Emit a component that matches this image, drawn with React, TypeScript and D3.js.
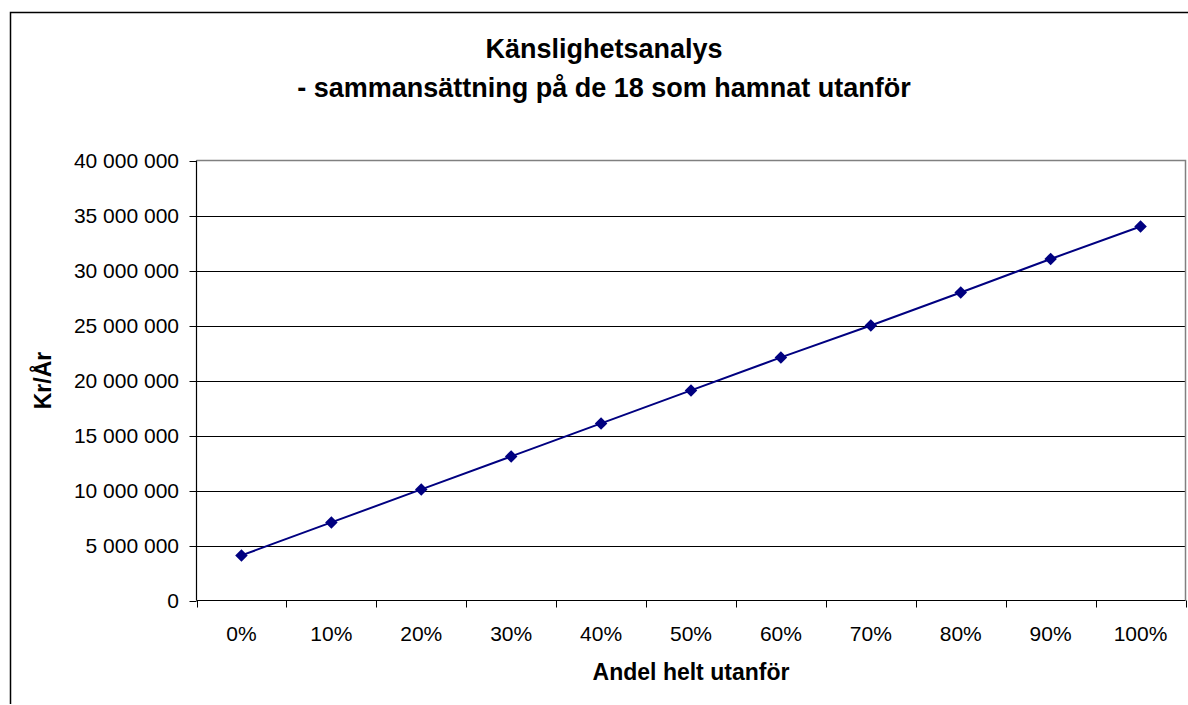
import React from "react";
import * as d3 from "d3";

const categories = ["0%", "10%", "20%", "30%", "40%", "50%", "60%", "70%", "80%", "90%", "100%"];
const values = [4.1e6, 7.1e6, 10.1e6, 13.1e6, 16.1e6, 19.1e6, 22.1e6, 25.0e6, 28.0e6, 31.05e6, 34.0e6];
const yTicks = [0, 5e6, 10e6, 15e6, 20e6, 25e6, 30e6, 35e6, 40e6];
const titleLines = ["Känslighetsanalys", "- sammansättning på de 18 som hamnat utanför"];
const xTitle = "Andel helt utanför";
const yTitle = "Kr/År";

const W = 1188;
const H = 705;
const FONT = "'Liberation Sans', Arial, Helvetica, sans-serif";

export default function App() {
  const left = 196.5, right = 1185.5, top = 160.5, bottom = 600.5;
  const x = d3.scaleBand<string>().domain(categories).range([left, right]).padding(0);
  const y = d3.scaleLinear().domain([0, 40e6]).range([bottom, top]);
  const loc = d3.formatLocale({ decimal: ",", thousands: " ", grouping: [3], currency: ["", " kr"] });
  const fmt = loc.format(",.0f");
  const cx = (c: string) => (x(c) as number) + x.bandwidth() / 2;
  const line = d3.line<number>().x((_, i) => cx(categories[i])).y((v) => y(v));
  const diamond = d3.symbol().type(d3.symbolDiamond2).size(100)() as string;
  const boundaries = [...categories.map((c) => x(c) as number), right];

  return (
    <svg width={W} height={H} style={{ position: "absolute", left: 0, top: 0, background: "#fff" }} fontFamily={FONT}>
      <rect x={0} y={0} width={W} height={H} fill="#fff" />
      {/* outer chart frame */}
      <path d={`M${W + 20},12.5 H10.5 V704`} fill="none" stroke="#000" strokeWidth={1.5} />
      {/* title */}
      <text x={604} y={57.5} textAnchor="middle" fontSize={27} fontWeight="bold">{titleLines[0]}</text>
      <text x={604} y={96.5} textAnchor="middle" fontSize={27} fontWeight="bold">{titleLines[1]}</text>
      {/* gridlines */}
      {yTicks.slice(1, -1).map((t) => (
        <line key={t} x1={left} x2={right} y1={Math.round(y(t)) + 0.5} y2={Math.round(y(t)) + 0.5} stroke="#000" strokeWidth={1} />
      ))}
      {/* plot border top/right */}
      <path d={`M${left},${top} H${right} V${bottom}`} fill="none" stroke="#808080" strokeWidth={1.5} />
      {/* axes */}
      <line x1={left} x2={left} y1={top} y2={bottom} stroke="#000" strokeWidth={1.2} />
      <line x1={left} x2={right} y1={bottom} y2={bottom} stroke="#000" strokeWidth={1.2} />
      {/* y ticks */}
      {yTicks.map((t) => (
        <g key={t}>
          <line x1={left - 7} x2={left} y1={Math.round(y(t)) + 0.5} y2={Math.round(y(t)) + 0.5} stroke="#000" />
          <text x={179} y={y(t)} dy="0.36em" textAnchor="end" fontSize={21}>{fmt(t)}</text>
        </g>
      ))}
      {/* x ticks */}
      {boundaries.map((b, i) => (
        <line key={i} x1={Math.round(b) + 0.5} x2={Math.round(b) + 0.5} y1={bottom} y2={bottom + 7} stroke="#000" />
      ))}
      {categories.map((c) => (
        <text key={c} x={cx(c)} y={641} textAnchor="middle" fontSize={21}>{c}</text>
      ))}
      {/* axis titles */}
      <text x={(left + right) / 2} y={680} textAnchor="middle" fontSize={23} fontWeight="bold">{xTitle}</text>
      <text transform={`translate(51,${(top + bottom) / 2}) rotate(-90)`} textAnchor="middle" fontSize={23} fontWeight="bold">{yTitle}</text>
      {/* series */}
      <path d={line(values) as string} fill="none" stroke="#000080" strokeWidth={2} />
      {values.map((v, i) => (
        <path key={i} d={diamond} transform={`translate(${cx(categories[i])},${y(v)})`} fill="#000080" />
      ))}
    </svg>
  );
}
